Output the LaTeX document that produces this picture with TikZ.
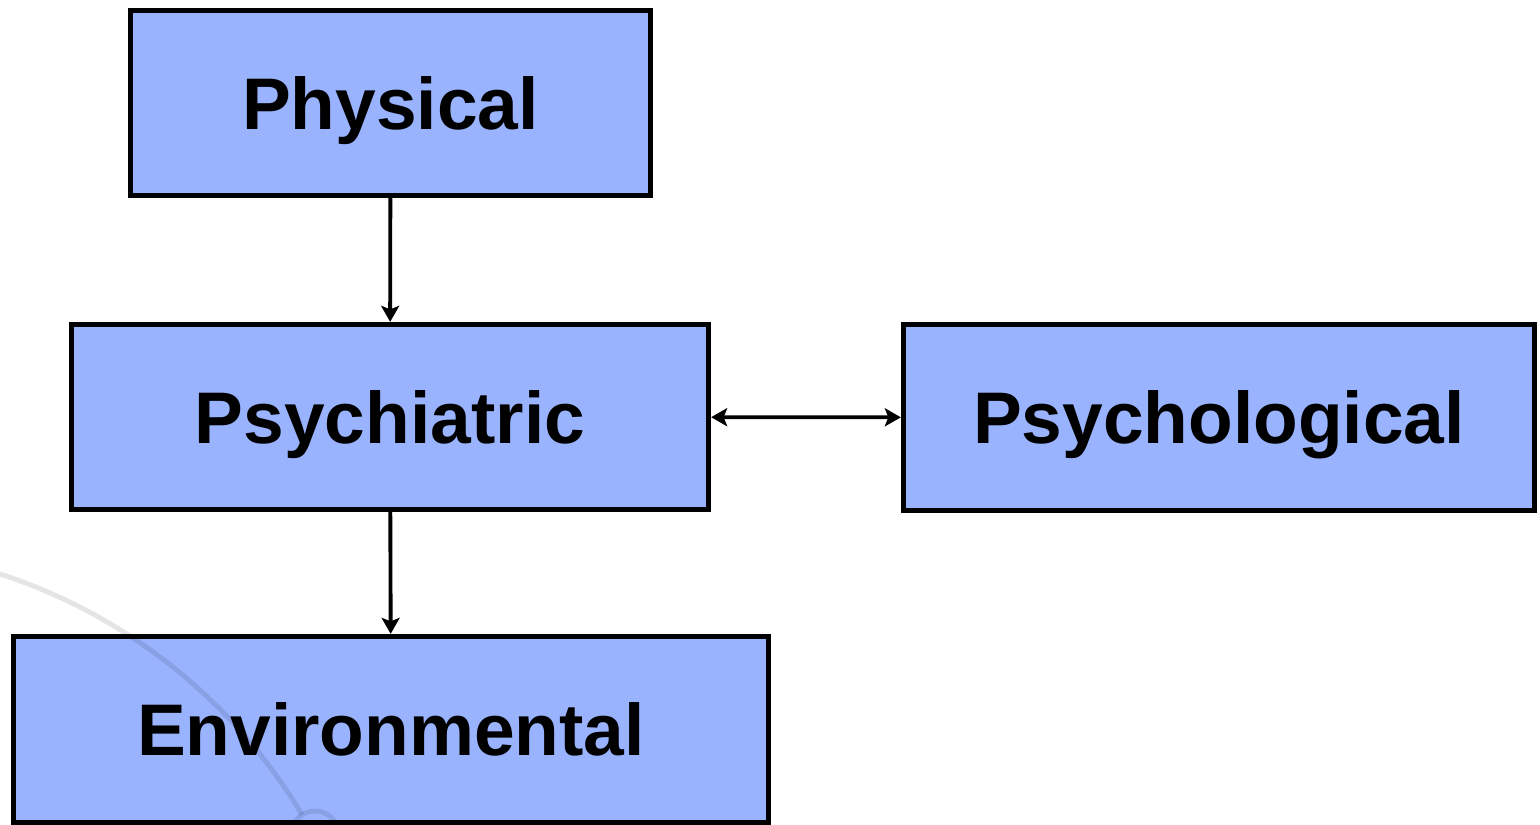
\documentclass[tikz,border=0pt]{standalone}
\usepackage{fontspec}
\setmainfont{Liberation Sans}
\usetikzlibrary{arrows.meta}
\definecolor{boxblue}{RGB}{153,179,255}
\begin{document}
\begin{tikzpicture}
	\tikzstyle{factor}=[draw=black, line width=1.5pt, fill=boxblue, inner sep=0pt,
		text height=0.525cm, text depth=0pt, font=\fontsize{20.8}{25}\selectfont\bfseries]
	\tikzstyle{link}=[line width=1.1pt, -{Stealth[length=0.16cm,width=0.18cm,inset=0.035cm]}]
	\tikzstyle{twoway}=[line width=1.1pt, {Stealth[length=0.16cm,width=0.18cm,inset=0.035cm]}-{Stealth[length=0.16cm,width=0.18cm,inset=0.035cm]}]
	\useasboundingbox (0,0) rectangle (15.4,-8.25);
	\node [factor, minimum width=5.2cm, minimum height=1.85cm] (physical) at (3.905,-1.03) {Physical};
	\node [factor, minimum width=6.37cm, minimum height=1.85cm] (psychiatric) at (3.9,-4.17) {Psychiatric};
	\node [factor, minimum width=6.31cm, minimum height=1.86cm] (psychological) at (12.19,-4.175) {Psychological};
	\node [factor, minimum width=7.55cm, minimum height=1.86cm] (environmental) at (3.91,-7.295) {Environmental};
	\draw [link] (physical) -- (psychiatric);
	\draw [link] (psychiatric) -- (environmental);
	\draw [twoway, yshift=-0.03cm] (psychiatric) -- (psychological);
	% faint arc of the slide background
	\begin{scope}
		\clip (0,0) rectangle (15.4,-8.25);
		\draw [black, opacity=0.1, line width=1.4pt] (-1.70,-10.97) ++(80:5.5) arc (80:30.9:5.5);
		\draw [black, opacity=0.1, line width=1.4pt] (3.15,-8.35) circle (0.24);
	\end{scope}
\end{tikzpicture}
\end{document}
